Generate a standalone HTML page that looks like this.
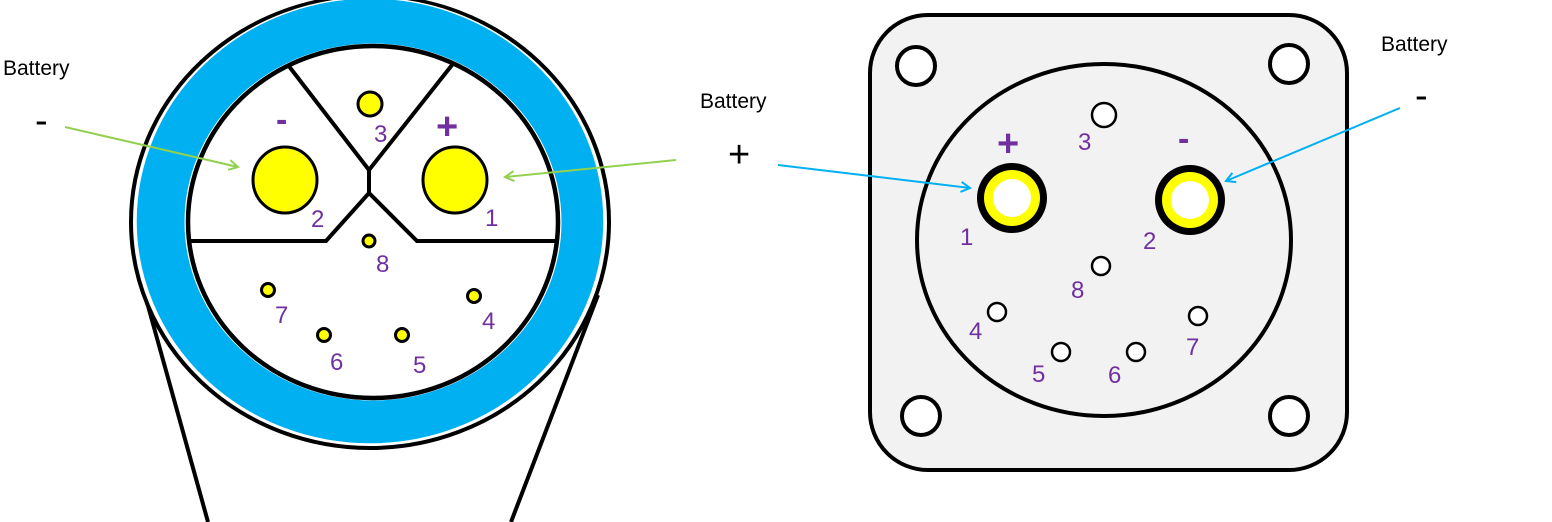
<!DOCTYPE html>
<html><head><meta charset="utf-8"><style>
html,body{margin:0;padding:0;background:#fff;}
svg{display:block;}
text{font-family:"Liberation Sans","DejaVu Sans",sans-serif;}
.p{fill:#7030a0;font-size:24px;}
.k{fill:#000;font-size:21px;}
</style></head><body>
<svg width="1552" height="522" viewBox="0 0 1552 522" xmlns="http://www.w3.org/2000/svg">
<defs>
<marker id="ag" markerWidth="12" markerHeight="12" refX="10" refY="6" orient="auto" markerUnits="userSpaceOnUse"><path d="M1,1 L10,6 L1,11" fill="none" stroke="#92d050" stroke-width="2"/></marker>
<marker id="ab" markerWidth="12" markerHeight="12" refX="10" refY="6" orient="auto" markerUnits="userSpaceOnUse"><path d="M1,1 L10,6 L1,11" fill="none" stroke="#00b0f0" stroke-width="2"/></marker>
</defs>
<line x1="145" y1="295" x2="208" y2="522" stroke="#000" stroke-width="4"/>
<line x1="598" y1="295" x2="511" y2="522" stroke="#000" stroke-width="4"/>
<ellipse cx="370" cy="222" rx="239" ry="226" fill="#fff" stroke="#000" stroke-width="4"/>
<ellipse cx="370" cy="221" rx="234" ry="223" fill="#00b0f0" stroke="#fff" stroke-width="1.5"/>
<ellipse cx="373" cy="222" rx="187" ry="177" fill="#fff" stroke="#fff" stroke-width="3"/>
<ellipse cx="373" cy="222" rx="185" ry="176" fill="#fff" stroke="#000" stroke-width="4.5"/>
<polyline points="188,241 326,241 369,193 417,241 556,241" fill="none" stroke="#000" stroke-width="4"/>
<line x1="369" y1="193" x2="369" y2="170" stroke="#000" stroke-width="4"/>
<line x1="369" y1="170" x2="288" y2="65" stroke="#000" stroke-width="4"/>
<line x1="369" y1="170" x2="452" y2="65" stroke="#000" stroke-width="4"/>
<g fill="#ffff00" stroke="#000" stroke-width="3">
<ellipse cx="285" cy="180" rx="32" ry="33"/>
<ellipse cx="455" cy="180" rx="32" ry="33"/>
<circle cx="370" cy="104" r="12"/>
<circle cx="369" cy="241" r="6"/>
<circle cx="268" cy="290" r="6.5"/>
<circle cx="324" cy="335" r="6.5"/>
<circle cx="402" cy="335" r="6.5"/>
<circle cx="474" cy="296" r="6.5"/>
</g>
<g class="p">
<text x="276" y="131" font-size="34" font-weight="bold">-</text>
<text x="436" y="139" font-size="38" font-weight="bold">+</text>
<text x="311" y="227">2</text><text x="485" y="226">1</text>
<text x="374" y="142">3</text><text x="376" y="272">8</text>
<text x="275" y="323">7</text><text x="330" y="370">6</text>
<text x="413" y="373">5</text><text x="482" y="329">4</text>
</g>
<line x1="65" y1="127" x2="238" y2="167" stroke="#92d050" stroke-width="2" marker-end="url(#ag)"/>
<line x1="676" y1="160" x2="505" y2="177" stroke="#92d050" stroke-width="2" marker-end="url(#ag)"/>
<text class="k" x="3" y="75">Battery</text>
<text x="35" y="133" font-size="38" fill="#000">-</text>
<text class="k" x="700" y="108">Battery</text>
<text x="728" y="167" font-size="38" fill="#000">+</text>
<rect x="870" y="15" width="477" height="455" rx="58" fill="#f2f2f2" stroke="#000" stroke-width="4"/>
<g fill="#fff" stroke="#000" stroke-width="4">
<circle cx="916" cy="66" r="19"/><circle cx="1289" cy="64" r="19"/>
<circle cx="921" cy="416" r="19"/><circle cx="1289" cy="416" r="19"/>
</g>
<ellipse cx="1104" cy="240" rx="187" ry="176" fill="#f2f2f2" stroke="#000" stroke-width="4"/>
<circle cx="1012" cy="198" r="35" fill="#000"/><circle cx="1012" cy="198" r="28" fill="#ffff00"/><circle cx="1012" cy="198" r="19" fill="#fff"/>
<circle cx="1190" cy="200" r="35" fill="#000"/><circle cx="1190" cy="200" r="28" fill="#ffff00"/><circle cx="1190" cy="200" r="19" fill="#fff"/>
<g fill="#fff" stroke="#000" stroke-width="2.5">
<circle cx="1104" cy="115" r="12"/>
<circle cx="1101" cy="266" r="9"/>
<circle cx="997" cy="312" r="9"/>
<circle cx="1198" cy="316" r="9"/>
<circle cx="1061" cy="352" r="9"/>
<circle cx="1136" cy="352" r="9"/>
</g>
<g class="p">
<text x="997" y="156" font-size="38" font-weight="bold">+</text>
<text x="1178" y="150" font-size="34" font-weight="bold">-</text>
<text x="1078" y="150">3</text>
<text x="960" y="245">1</text><text x="1143" y="249">2</text>
<text x="1071" y="298">8</text>
<text x="969" y="339">4</text><text x="1186" y="355">7</text>
<text x="1032" y="382">5</text><text x="1108" y="383">6</text>
</g>
<line x1="778" y1="165" x2="970" y2="188" stroke="#00b0f0" stroke-width="2" marker-end="url(#ab)"/>
<line x1="1400" y1="108" x2="1226" y2="181" stroke="#00b0f0" stroke-width="2" marker-end="url(#ab)"/>
<text class="k" x="1381" y="51">Battery</text>
<text x="1415" y="108" font-size="38" fill="#000">-</text>
</svg>
</body></html>
